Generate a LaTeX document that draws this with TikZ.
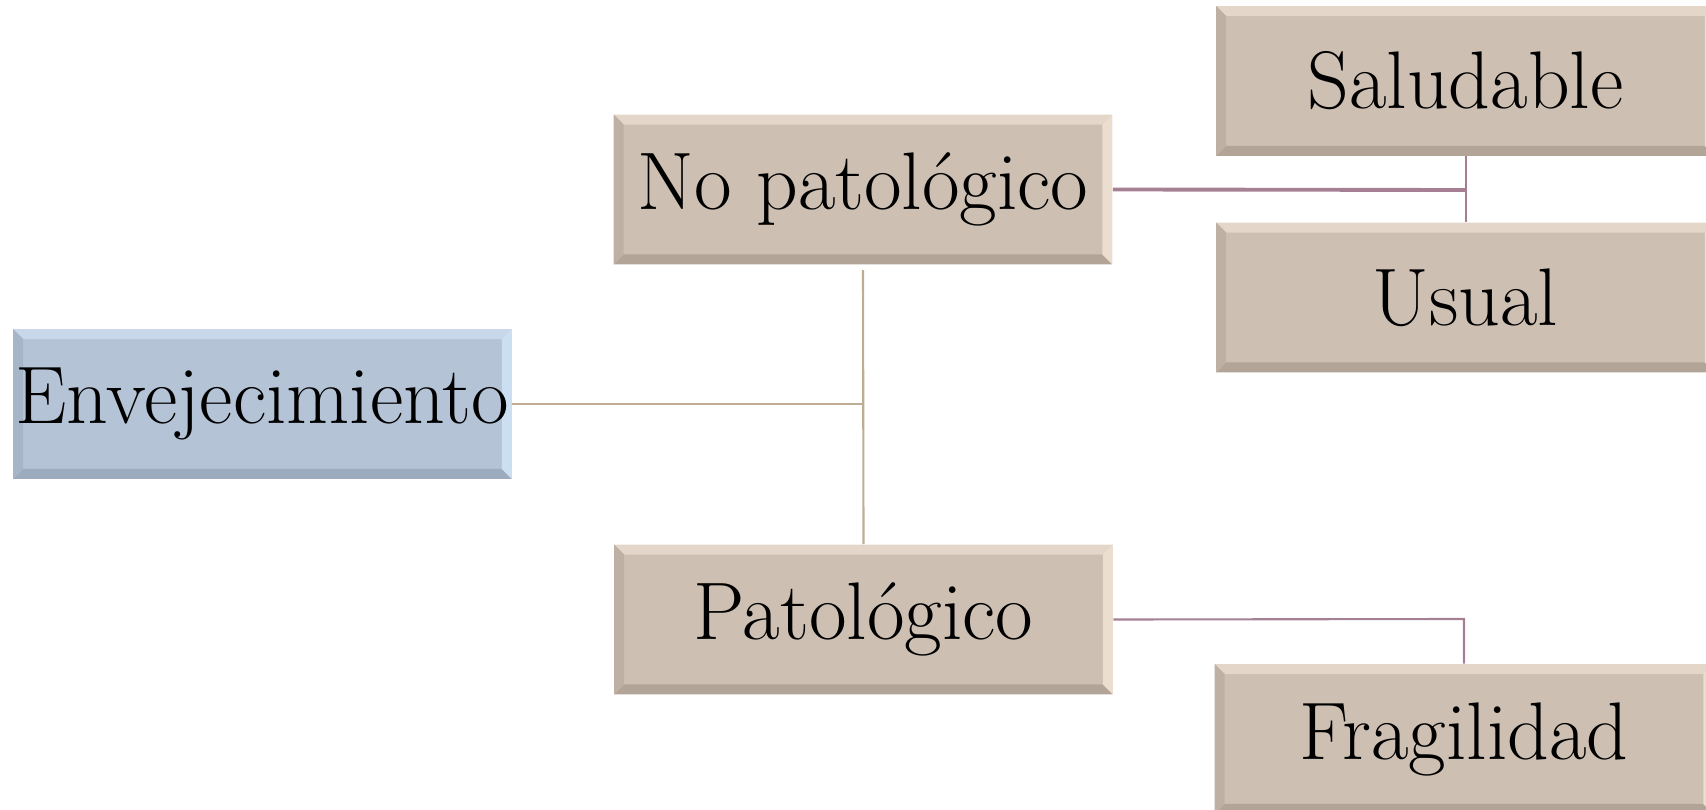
\documentclass[tikz,border=0pt]{standalone}
\usepackage{fontspec}
\definecolor{tanmain}{RGB}{205,191,178}
\definecolor{tantop}{RGB}{228,214,200}
\definecolor{tanright}{RGB}{236,222,206}
\definecolor{tanbot}{RGB}{178,165,152}
\definecolor{tanleft}{RGB}{190,177,164}
\definecolor{bluemain}{RGB}{180,196,214}
\definecolor{bluetop}{RGB}{200,216,234}
\definecolor{blueright}{RGB}{204,222,242}
\definecolor{bluebot}{RGB}{156,172,190}
\definecolor{blueleft}{RGB}{166,182,200}
\definecolor{tanline}{RGB}{190,172,148}
\definecolor{mauveline}{RGB}{165,128,148}
\tikzset{
  bevelbox/.style={rectangle, minimum width=9.98cm, minimum height=3cm, inner sep=0pt,
    font=\fontsize{46.5}{55}\selectfont, text=black, fill=#1main,
    path picture={
      \fill[#1top] (path picture bounding box.north west) -- (path picture bounding box.north east)
        -- ([shift={(-0.2cm,-0.2cm)}]path picture bounding box.north east)
        -- ([shift={(0.2cm,-0.2cm)}]path picture bounding box.north west) -- cycle;
      \fill[#1bot] (path picture bounding box.south west) -- (path picture bounding box.south east)
        -- ([shift={(-0.2cm,0.2cm)}]path picture bounding box.south east)
        -- ([shift={(0.2cm,0.2cm)}]path picture bounding box.south west) -- cycle;
      \fill[#1left] (path picture bounding box.south west) -- (path picture bounding box.north west)
        -- ([shift={(0.2cm,-0.2cm)}]path picture bounding box.north west)
        -- ([shift={(0.2cm,0.2cm)}]path picture bounding box.south west) -- cycle;
      \fill[#1right] (path picture bounding box.south east) -- (path picture bounding box.north east)
        -- ([shift={(-0.2cm,-0.2cm)}]path picture bounding box.north east)
        -- ([shift={(-0.2cm,0.2cm)}]path picture bounding box.south east) -- cycle;
    }},
  tanconn/.style={draw=tanline, line width=1.2pt},
  mauveconn/.style={draw=mauveline, line width=1.2pt},
  mauvethick/.style={draw=mauveline, line width=2.2pt}
}
\begin{document}
\begin{tikzpicture}[x=0.02cm, y=-0.02cm]
\useasboundingbox (0,0) rectangle (1706,810);
\begin{scope}
\clip (0,0) rectangle (1706,810);
\node[bevelbox=blue] (env) at (262.5,404) {Envejecimiento};
\node[bevelbox=tan] (np) at (863,189.5) {No patológico};
\node[bevelbox=tan] (pat) at (863.5,619.5) {Patológico};
\node[bevelbox=tan] (sal) at (1465.5,81) {Saludable};
\node[bevelbox=tan] (usu) at (1465.5,297.5) {Usual};
\node[bevelbox=tan] (fra) at (1464,739) {Fragilidad};
\coordinate (j1) at (863,404);
\coordinate (j2) at (1466,190);
\coordinate (j3) at (1464,619);
\draw[tanconn] (env.east) -- (j1);
\draw[tanconn] ([yshift=-3pt]np.south) -- (pat.north);
\draw[mauvethick] (np.east) -- (j2);
\draw[mauveconn] ([xshift=0.5pt]sal.south) -- ([xshift=0.5pt]usu.north);
\draw[mauveconn] (pat.east) -- (j3) -- (fra.north);
\end{scope}
\end{tikzpicture}
\end{document}
